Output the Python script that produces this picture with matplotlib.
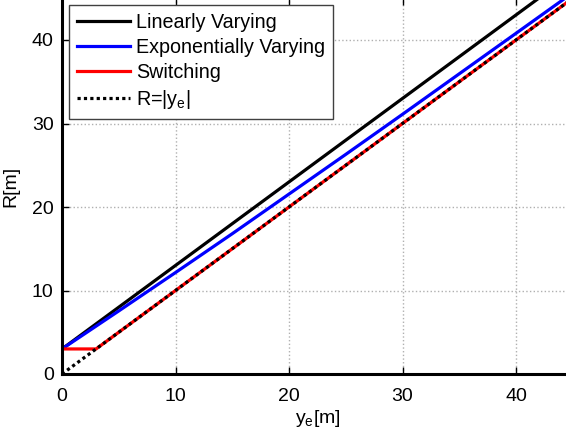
import matplotlib
matplotlib.use('Agg')
import matplotlib.pyplot as plt

# dữ liệu
ye = [0, 5, 10, 15, 20, 25, 30, 35, 40, 45]
r_linear = [3, 8, 13, 18, 23, 28, 33, 38, 43, 48]
r_exp = [3.0, 7.55, 12.15, 16.8, 21.55, 26.3, 31.1, 35.95, 40.8, 45.66]
ye_switch = [0, 3, 45]
r_switch = [3, 3, 45]
ye_ref = [0, 45]
r_ref = [0, 45]

xticks = [0, 10, 20, 30, 40]
yticks = [0, 10, 20, 30, 40]

plt.rcParams['font.family'] = ['Liberation Sans', 'DejaVu Sans']
plt.rcParams['mathtext.default'] = 'regular'
plt.rcParams['font.size'] = 14

fig = plt.figure(figsize=(5.66, 4.30), dpi=100)
# axes kéo dài ra ngoài khung hình (ảnh gốc bị cắt ở cạnh phải và trên)
ax = fig.add_axes([62 / 566, 56 / 430, 510.75 / 566, 375.75 / 430])

ax.plot(ye, r_linear, color='black', lw=2.3, label='Linearly Varying')
ax.plot(ye, r_exp, color='blue', lw=2.3, label='Exponentially Varying')
ax.plot(ye_switch, r_switch, color='red', lw=2.3, label='Switching')
ax.plot(ye_ref, r_ref, color='black', lw=2.3, dashes=(1.0, 1.0), label='R=|y$_e$|')

ax.set_xlim(0, 45)
ax.set_ylim(0, 45)
ax.set_xticks(xticks)
ax.set_yticks(yticks)
ax.grid(True, color='#b0b0b0', linestyle=':', lw=1.0)
ax.set_axisbelow(True)

for s in ax.spines.values():
    s.set_linewidth(2.2)
ax.tick_params(direction='in', length=5, width=1, top=True, right=True)
ax.tick_params(axis='x', pad=10)
ax.tick_params(axis='y', pad=6)

ax.set_xlabel('y$_e$[m]', labelpad=2)
ax.set_ylabel('R[m]', labelpad=9)

leg = ax.legend(loc='upper left', fancybox=False, framealpha=1, edgecolor='#404040',
                handlelength=2.7, handletextpad=0.3, labelspacing=0.3,
                borderaxespad=0.35, borderpad=0.4, fontsize=14.2)
leg.get_frame().set_linewidth(1.0)

fig.savefig('out.png', dpi=100)
